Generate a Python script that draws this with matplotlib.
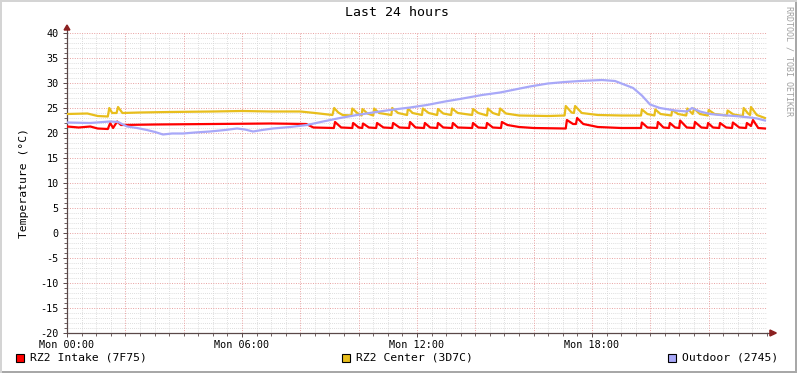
import numpy as np
import matplotlib
matplotlib.use("Agg")
import matplotlib.pyplot as plt
from matplotlib.patches import Rectangle, Polygon

plt.rcParams['font.family'] = ['DejaVu Sans Mono']
plt.rcParams['axes.unicode_minus'] = False

# hours since Mon 00:00
intake_t = [0.00, 0.40, 0.80, 1.05, 1.40, 1.48, 1.58, 1.72, 1.85, 3.00, 5.00, 7.00, 8.20, 8.45,
            9.15, 9.19, 9.40, 9.78, 9.81, 10.00, 10.12, 10.15, 10.35, 10.60, 10.63, 10.85,
            11.15, 11.18, 11.40, 11.73, 11.76, 11.95, 12.24, 12.27, 12.45, 12.69, 12.72, 12.90,
            13.20, 13.23, 13.40, 13.89, 13.92, 14.10, 14.37, 14.40, 14.60, 14.88, 14.91, 15.10,
            15.50, 16.00, 17.10, 17.14, 17.35, 17.45, 17.49, 17.70, 18.20, 19.00, 19.68, 19.71,
            19.90, 20.23, 20.26, 20.45, 20.64, 20.67, 20.85, 20.99, 21.02, 21.25, 21.50, 21.53,
            21.75, 21.95, 21.98, 22.15, 22.36, 22.39, 22.60, 22.80, 22.83, 23.05, 23.28, 23.31,
            23.45, 23.52, 23.70, 23.93]
intake_v = [21.3, 21.1, 21.3, 20.9, 20.8, 22.0, 21.0, 22.3, 21.6, 21.7, 21.8, 21.9, 21.8, 21.1,
            21.0, 22.2, 21.1, 21.0, 22.0, 21.1, 21.0, 21.9, 21.1, 21.0, 22.0, 21.1,
            21.0, 22.0, 21.1, 21.0, 22.2, 21.1, 21.0, 22.0, 21.1, 21.0, 22.0, 21.1,
            21.0, 22.0, 21.1, 21.0, 22.0, 21.1, 21.0, 22.0, 21.1, 21.0, 22.2, 21.6,
            21.2, 21.0, 20.9, 22.6, 21.8, 21.8, 23.0, 21.8, 21.2, 21.0, 21.0, 22.1,
            21.1, 21.0, 22.2, 21.1, 21.0, 22.0, 21.1, 21.0, 22.5, 21.1, 21.0, 22.2,
            21.1, 21.0, 22.0, 21.1, 21.0, 22.0, 21.1, 21.0, 22.1, 21.1, 21.0, 22.0,
            21.4, 22.6, 21.0, 20.9]

center_t = [0.00, 0.70, 1.05, 1.40, 1.45, 1.55, 1.70, 1.75, 1.90, 2.50, 3.50, 5.00, 6.00, 7.00,
            8.00, 8.50, 9.10, 9.16, 9.30, 9.45, 9.75, 9.78, 9.95, 10.10, 10.13, 10.30, 10.50,
            10.53, 10.70, 11.12, 11.15, 11.35, 11.66, 11.69, 11.85, 12.17, 12.20, 12.40, 12.69,
            12.72, 12.90, 13.17, 13.20, 13.40, 13.89, 13.92, 14.10, 14.40, 14.43, 14.60, 14.81,
            14.85, 15.05, 15.50, 16.50, 17.06, 17.10, 17.30, 17.38, 17.42, 17.65, 18.20, 19.00,
            19.68, 19.71, 19.90, 20.14, 20.17, 20.35, 20.72, 20.75, 20.95, 21.23, 21.27, 21.35,
            21.45, 21.50, 21.70, 21.97, 22.00, 22.20, 22.62, 22.65, 22.85, 23.17, 23.20, 23.35,
            23.42, 23.45, 23.65, 23.93]
center_v = [23.8, 23.9, 23.4, 23.3, 25.0, 24.0, 24.0, 25.2, 24.0, 24.1, 24.2, 24.3, 24.4, 24.3,
            24.3, 24.0, 23.6, 25.0, 24.1, 23.6, 23.5, 24.9, 24.0, 23.5, 24.8, 23.9, 23.5,
            24.9, 24.0, 23.6, 25.0, 24.0, 23.6, 24.9, 24.0, 23.6, 24.9, 24.0, 23.6,
            24.8, 23.9, 23.6, 24.9, 24.0, 23.6, 24.8, 24.0, 23.5, 24.9, 24.0, 23.6,
            24.9, 23.9, 23.5, 23.4, 23.5, 25.4, 24.1, 24.0, 25.4, 24.0, 23.6, 23.5,
            23.5, 24.7, 23.8, 23.5, 24.7, 23.8, 23.5, 24.6, 23.8, 23.5, 24.9, 24.4,
            23.8, 24.9, 23.8, 23.5, 24.6, 23.8, 23.5, 24.5, 23.7, 23.4, 25.0, 23.9,
            23.6, 25.2, 23.6, 23.0]

outdoor_t = [0.00, 0.79, 1.47, 1.75, 2.06, 2.40, 2.74, 3.02, 3.29, 3.60, 3.98, 4.39, 4.90, 5.42,
             5.83, 6.10, 6.38, 6.69, 7.06, 7.65, 8.23, 8.78, 9.36, 9.94, 10.49, 11.07, 11.76,
             12.34, 12.96, 13.47, 14.23, 14.85, 15.36, 15.87, 16.49, 17.07, 17.59, 18.34, 18.79,
             19.41, 19.71, 19.99, 20.33, 20.85, 21.26, 21.43, 21.70, 22.05, 22.39, 22.90, 23.42,
             23.66, 23.93]
outdoor_v = [22.1, 22.0, 22.3, 22.2, 21.3, 21.0, 20.6, 20.2, 19.7, 19.9, 19.9, 20.1, 20.3, 20.6,
             20.9, 20.7, 20.3, 20.6, 20.9, 21.2, 21.6, 22.3, 23.0, 23.6, 24.1, 24.6, 25.1,
             25.6, 26.3, 26.8, 27.6, 28.1, 28.7, 29.3, 29.9, 30.2, 30.4, 30.6, 30.4,
             29.0, 27.5, 25.7, 25.0, 24.5, 24.3, 25.0, 24.3, 23.8, 23.6, 23.4, 23.1,
             22.9, 22.5]

series_names = ["RZ2 Intake (7F75)", "RZ2 Center (3D7C)", "Outdoor (2745)"]
series_colors = ["#FF0000", "#E8BE1C", "#A8A8F8"]

x_ticks = [0, 6, 12, 18]
x_labels = ["Mon 00:00", "Mon 06:00", "Mon 12:00", "Mon 18:00"]

W, H = 797, 373
fig = plt.figure(figsize=(W / 100, H / 100), dpi=100)
fig.patch.set_facecolor("white")

ax = fig.add_axes([67 / W, (H - 333) / H, 700 / W, 300 / H])
ax.set_facecolor("white")
ax.set_xlim(0, 24)
ax.set_ylim(-20, 40)

# grid like rrdtool
for yv in range(-20, 41):
    if yv % 5 == 0:
        ax.axhline(yv, color="#E8A0A0", lw=0.7, ls=(0, (1, 1.5)), zorder=1)
    else:
        ax.axhline(yv, color="#D4D4D4", lw=0.6, ls=(0, (1, 1.5)), zorder=0.5)
for k in range(0, 49):
    xv = k * 0.5
    if k % 4 == 0:
        ax.axvline(xv, color="#E8A0A0", lw=0.7, ls=(0, (1, 1.5)), zorder=1)
    else:
        ax.axvline(xv, color="#D4D4D4", lw=0.6, ls=(0, (1, 1.5)), zorder=0.5)

ax.plot(intake_t, intake_v, color=series_colors[0], lw=1.6, zorder=3)
ax.plot(center_t, center_v, color=series_colors[1], lw=1.6, zorder=3)
ax.plot(outdoor_t, outdoor_v, color=series_colors[2], lw=1.6, zorder=4)

for s in ["top", "right"]:
    ax.spines[s].set_visible(False)
ax.spines["left"].set_color("#5a4848")
ax.spines["bottom"].set_color("#5a4848")
ax.spines["left"].set_linewidth(0.9)
ax.spines["bottom"].set_linewidth(0.9)

ax.set_yticks(range(-20, 41, 5))
ax.set_yticks(range(-20, 41), minor=True)
ax.set_xticks(x_ticks)
ax.set_xticklabels(x_labels)
ax.set_xticks(np.arange(0, 24.01, 0.5), minor=True)
ax.tick_params(axis="both", which="major", length=3, width=0.7, color="#5a4848",
               labelsize=7.3, pad=2)
ax.tick_params(axis="both", which="minor", length=2, width=0.6, color="#5a4848")
ax.tick_params(axis="y", which="major", pad=3)
ax.set_ylabel("Temperature (°C)", fontsize=8.2, labelpad=8)

# axis arrows
ax.plot([24, 24.2], [-20, -20], color="#5a4848", lw=0.9, clip_on=False, zorder=5)
ax.plot([0, 0], [40, 41], color="#5a4848", lw=0.9, clip_on=False, zorder=5)
ax.add_patch(Polygon([[24.1, -20.6], [24.1, -19.4], [24.32, -20]], closed=True,
                     color="#8B2020", clip_on=False, zorder=6))
ax.add_patch(Polygon([[-0.1, 40.6], [0.1, 40.6], [0, 41.6]], closed=True,
                     color="#8B2020", clip_on=False, zorder=6))

fig.text(397 / W, 1 - 13 / H, "Last 24 hours", ha="center", va="center", fontsize=9.5)
fig.text(789 / W, 1 - 6 / H, "RRDTOOL / TOBI OETIKER", rotation=270, ha="center", va="top",
         fontsize=6, color="#A0A0A0")

# legend
leg_x = [16, 342, 668]
for i in range(3):
    fig.patches.append(Rectangle((leg_x[i] / W, 1 - 362 / H), 8 / W, 8 / H,
                                 transform=fig.transFigure, facecolor=series_colors[i],
                                 edgecolor="black", lw=0.8))
    fig.text((leg_x[i] + 14) / W, 1 - 358 / H, series_names[i], ha="left", va="center",
             fontsize=8.2)

# frame like rrdtool
fig.patches.append(Rectangle((0, 0), 1, 2 / H, transform=fig.transFigure,
                             facecolor="#A8A8A8", edgecolor="none"))
fig.patches.append(Rectangle((1 - 2 / W, 0), 2 / W, 1, transform=fig.transFigure,
                             facecolor="#A8A8A8", edgecolor="none"))
fig.patches.append(Rectangle((0, 1 - 2 / H), 1, 2 / H, transform=fig.transFigure,
                             facecolor="#D4D4D4", edgecolor="none"))
fig.patches.append(Rectangle((0, 0), 2 / W, 1, transform=fig.transFigure,
                             facecolor="#D4D4D4", edgecolor="none"))

fig.savefig("out.png", dpi=100, facecolor="white")
